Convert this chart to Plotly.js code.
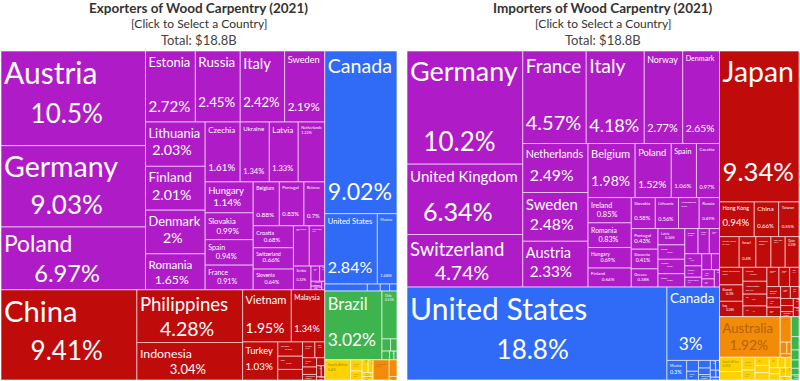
<!DOCTYPE html>
<html><head><meta charset="utf-8">
<script src="https://cdn.plot.ly/plotly-3.0.1.min.js"></script>
<style>html,body{margin:0;padding:0;background:#fff}#chart{width:800px;height:381px}</style>
</head><body><div id="chart"></div>
<script>
// ---------- DATA (share of world trade, %) ----------
const continents = ["Europe", "Asia", "North America", "South America", "Africa", "Oceania"];

// Exporters
const expEuropeCountries = ["Austria","Germany","Poland","Estonia","Russia","Italy","Sweden","Lithuania","Finland","Denmark","Romania","Czechia","Ukraine","Latvia","Netherlands","Hungary","Slovakia","Spain","France","Belgium","Portugal","Belarus","Croatia","Switzerland","Slovenia","Bosnia and Herzegovina","United Kingdom","Serbia","Bulgaria","Greece","Norway","North Macedonia","Ireland"];
const expEuropeValues = [10.5,9.03,6.97,2.72,2.45,2.42,2.19,2.03,2.01,2.0,1.65,1.61,1.34,1.33,1.22,1.14,0.99,0.94,0.91,0.88,0.83,0.7,0.68,0.66,0.64,0.49,0.48,0.32,0.1,0.06,0.04,0.03,0.02];
const expAsiaCountries = ["China","Philippines","Indonesia","Vietnam","Malaysia","Turkey","Thailand","India","Taiwan","Sri Lanka","Japan","Singapore","Israel","Cambodia","Myanmar","Laos","Georgia","South Korea"];
const expAsiaValues = [9.41,4.28,3.04,1.95,1.34,1.03,0.27,0.25,0.2,0.15,0.12,0.1,0.08,0.06,0.05,0.04,0.03,0.02];
const expNorthAmericaCountries = ["Canada","United States","Mexico","Honduras","Guatemala","Nicaragua","Costa Rica"];
const expNorthAmericaValues = [9.02,2.84,1.06,0.23,0.07,0.05,0.04];
const expSouthAmericaCountries = ["Brazil","Chile","Argentina","Bolivia","Peru","Paraguay","Uruguay"];
const expSouthAmericaValues = [3.02,0.55,0.08,0.06,0.05,0.03,0.02];
const expAfricaCountries = ["South Africa","Ghana","Cameroon","Côte d'Ivoire","Gabon","Kenya","Morocco"];
const expAfricaValues = [0.4,0.1,0.08,0.06,0.05,0.03,0.03];
const expOceaniaCountries = ["New Zealand","Australia","Fiji"];
const expOceaniaValues = [0.25,0.1,0.02];

// Importers
const impEuropeCountries = ["Germany","United Kingdom","Switzerland","France","Italy","Norway","Denmark","Netherlands","Sweden","Austria","Belgium","Poland","Spain","Czechia","Ireland","Romania","Hungary","Russia","Finland","Slovakia","Lithuania","Luxembourg","Portugal","Slovenia","Greece","Latvia","Serbia","Croatia","Estonia","Bulgaria","Iceland","Ukraine","Malta","Cyprus","Bosnia and Herzegovina","North Macedonia","Montenegro","Albania","Moldova","Belarus"];
const impEuropeValues = [10.2,6.34,4.74,4.57,4.18,2.77,2.65,2.49,2.48,2.33,1.98,1.52,1.06,0.97,0.85,0.83,0.69,0.49,0.64,0.58,0.56,0.5,0.43,0.41,0.38,0.34,0.3,0.3,0.28,0.26,0.22,0.2,0.16,0.15,0.13,0.12,0.1,0.09,0.08,0.07];
const impAsiaCountries = ["Japan","Hong Kong","China","Taiwan","South Korea","Israel","Singapore","Saudi Arabia","Qatar","United Arab Emirates","Kuwait","Iraq","Thailand","Kazakhstan","India","Malaysia","Philippines","Vietnam","Oman","Bahrain","Macau","Turkey","Lebanon","Jordan","Indonesia","Azerbaijan","Georgia","Mongolia","Armenia"];
const impAsiaValues = [9.34,0.94,0.66,0.55,0.47,0.4,0.36,0.34,0.33,0.32,0.3,0.28,0.26,0.24,0.22,0.2,0.18,0.16,0.14,0.12,0.1,0.1,0.09,0.08,0.07,0.06,0.05,0.04,0.04];
const impNorthAmericaCountries = ["United States","Canada","Mexico","Dominican Republic","Costa Rica","Panama","Guatemala","Bahamas","Jamaica","Honduras","Trinidad and Tobago","Barbados","El Salvador"];
const impNorthAmericaValues = [18.8,3.0,0.3,0.1,0.08,0.07,0.06,0.05,0.04,0.03,0.03,0.02,0.02];
const impSouthAmericaCountries = ["Chile","Brazil","Colombia","Peru","Argentina","Uruguay"];
const impSouthAmericaValues = [0.12,0.08,0.06,0.05,0.04,0.03];
const impAfricaCountries = ["South Africa","Morocco","Egypt","Nigeria","Kenya","Côte d'Ivoire","Algeria","Ghana","Tunisia","Senegal","Mauritius","Angola","Gabon","Cameroon","Libya"];
const impAfricaValues = [0.25,0.15,0.13,0.1,0.09,0.08,0.08,0.07,0.06,0.05,0.05,0.05,0.04,0.04,0.03];
const impOceaniaCountries = ["Australia","New Zealand","New Caledonia","French Polynesia","Fiji"];
const impOceaniaValues = [1.92,0.22,0.06,0.04,0.03];

const titles = [
  ["Exporters of Wood Carpentry (2021)", "[Click to Select a Country]", "Total: $18.8B"],
  ["Importers of Wood Carpentry (2021)", "[Click to Select a Country]", "Total: $18.8B"]
];

// ---------- STYLE ----------
const FONT = "Lato";
const fillColors = {"Europe":"#B01BC8","Asia":"#C00B0B","North America":"#2F6BF6","South America":"#3DB44E","Africa":"#FCD200","Oceania":"#F28C06"};
const textColors = {"Europe":"#ffffff","Asia":"#ffffff","North America":"#ffffff","South America":"#ffffff","Africa":"#A88A00","Oceania":"#B5620A"};

function fmtPct(v) { return String(parseFloat(v.toPrecision(3))) + "%"; }

function buildTrace(groups, domainX) {
  const ids = ["root"], labels = ["World"], parents = [""], values = [0];
  const text = [""], colors = ["#ffffff"], tcolors = ["#ffffff"], tsizes = [10], pcts = [""], pcap = [10];
  groups.forEach(([cont, names, vals]) => {
    ids.push(cont); labels.push(cont); parents.push("root"); values.push(0);
    text.push(""); pcts.push(""); pcap.push(10);
    colors.push(fillColors[cont]); tcolors.push(textColors[cont]); tsizes.push(10);
    names.forEach((n, i) => {
      const v = vals[i];
      ids.push(cont + "/" + n); labels.push(n); parents.push(cont); values.push(v);
      pcts.push(fmtPct(v));
      text.push(n + "<br>" + fmtPct(v));
      colors.push(fillColors[cont]); tcolors.push(textColors[cont]);
      tsizes.push(Math.min(30, Math.max(4, 9.5 * Math.sqrt(v))));
      pcap.push(Math.min(26, Math.max(4, 10 * Math.sqrt(v))));
    });
  });
  return {
    type: "treemap", ids, labels, parents, values, text, customdata: pcts, _pcap: pcap,
    branchvalues: "remainder", sort: true,
    texttemplate: "%{text}", textposition: "top left",
    hovertemplate: "%{label}: %{value}%<extra></extra>",
    marker: { colors, line: { width: 1, color: "rgba(255,255,255,0.6)" }, pad: { t: 0, l: 0, r: 0, b: 0 } },
    textfont: { family: FONT + ", sans-serif", color: tcolors, size: tsizes },
    tiling: { packing: "squarify", squarifyratio: 1.618, pad: 0 },
    pathbar: { visible: false },
    leaf: { opacity: 1 },
    root: { color: "#ffffff" },
    domain: { x: domainX, y: [0, 1] }
  };
}

const expTrace = buildTrace([
  ["Europe", expEuropeCountries, expEuropeValues],
  ["Asia", expAsiaCountries, expAsiaValues],
  ["North America", expNorthAmericaCountries, expNorthAmericaValues],
  ["South America", expSouthAmericaCountries, expSouthAmericaValues],
  ["Africa", expAfricaCountries, expAfricaValues],
  ["Oceania", expOceaniaCountries, expOceaniaValues]
], [0, 0.4962]);

const impTrace = buildTrace([
  ["Europe", impEuropeCountries, impEuropeValues],
  ["Asia", impAsiaCountries, impAsiaValues],
  ["North America", impNorthAmericaCountries, impNorthAmericaValues],
  ["South America", impSouthAmericaCountries, impSouthAmericaValues],
  ["Africa", impAfricaCountries, impAfricaValues],
  ["Oceania", impOceaniaCountries, impOceaniaValues]
], [0.5088, 1]);

const annotations = [];
const centers = [0.2481, 0.7544];
const ys = [1.130, 1.085, 1.033];
const fonts = [
  { size: 13.5, color: "#333333" },
  { size: 12, color: "#333333" },
  { size: 13, color: "#444444" }
];
titles.forEach((lines, k) => {
  lines.forEach((t, j) => {
    annotations.push({
      text: j === 0 ? "<b>" + t + "</b>" : t, x: centers[k], y: ys[j], xref: "paper", yref: "paper",
      xanchor: "center", yanchor: "middle", showarrow: false,
      font: { family: FONT + ", sans-serif", size: fonts[j].size, color: fonts[j].color }
    });
  });
});

const traces = [expTrace, impTrace];
const pctCaps = traces.map(t => t._pcap);
traces.forEach(t => { delete t._pcap; });

// Second pass: using the tile sizes from Plotly's own treemap layout,
// size the name and the share separately, drop the share toward the tile
// bottom and centre it, as in the reference.
const ctx = document.createElement("canvas").getContext("2d");
function tw(str, size) { ctx.font = size + "px " + FONT; return ctx.measureText(str).width; }
const NB = "\u00a0";

function placeText(gd) {
  try {
    gd.querySelectorAll("g.trace.treemap").forEach((g) => {
      const cd = g.__data__;
      if (!cd || !cd[0] || !cd[0].trace) return;
      const ti = cd[0].trace.index;
      const tr = traces[ti];
      const newText = tr.text.slice();
      const newSize = tr.textfont.size.slice();
      let changed = false;
      g.querySelectorAll("g.slice").forEach((s) => {
        const pt = s.__data__;
        if (!pt || pt.children) return;
        const cdi = pt.data && pt.data.data;
        if (!cdi || cdi.i === undefined) return;
        const i = cdi.i;
        if (!tr.customdata[i]) return;
        const w = pt.x1 - pt.x0, h = pt.y1 - pt.y0;
        const lab = tr.labels[i], pct = tr.customdata[i];
        let fl = Math.min(tr.textfont.size[i], (w - 8) / tw(lab, 1));
        let fp = Math.min(pctCaps[ti][i], (w - 8) / tw(pct, 1));
        if (fl < 3.5) return;
        const avail = h - 9;
        const need = 1.2 * fl + 1.05 * fp;
        if (need > avail) { const sc = avail / need; fl *= sc; fp *= sc; }
        const u = fl / 3;
        const kmin = Math.ceil((0.25 * fl + 0.8 * fp) / (1.3 * u));
        let k = Math.floor((avail - 0.98 * fl - 0.22 * fp) / (1.3 * u));
        k = Math.max(kmin, Math.min(k, 40));
        const pw = tw(pct, fp), nbw = tw(NB, fp);
        const nsp = nbw > 0 ? Math.max(0, Math.floor(((w - 8 - pw) / 2) / nbw)) : 0;
        const pr = (fp / u * 100).toFixed(1);
        newText[i] = "<span style='font-size:300%'>" + lab + "</span>" + "<br>".repeat(k) +
                     "<span style='font-size:" + pr + "%'>" + NB.repeat(nsp) + pct + "</span>";
        newSize[i] = u;
        changed = true;
      });
      if (changed) Plotly.restyle(gd, { text: [newText], "textfont.size": [newSize] }, [ti]);
    });
  } catch (e) { /* keep first pass */ }
}

Plotly.newPlot("chart", traces, {
  width: 800, height: 381,
  margin: { l: 1, r: 1, t: 51, b: 1 },
  paper_bgcolor: "#ffffff",
  annotations,
  showlegend: false
}, { displayModeBar: false, staticPlot: true }).then(placeText);
</script></body></html>
